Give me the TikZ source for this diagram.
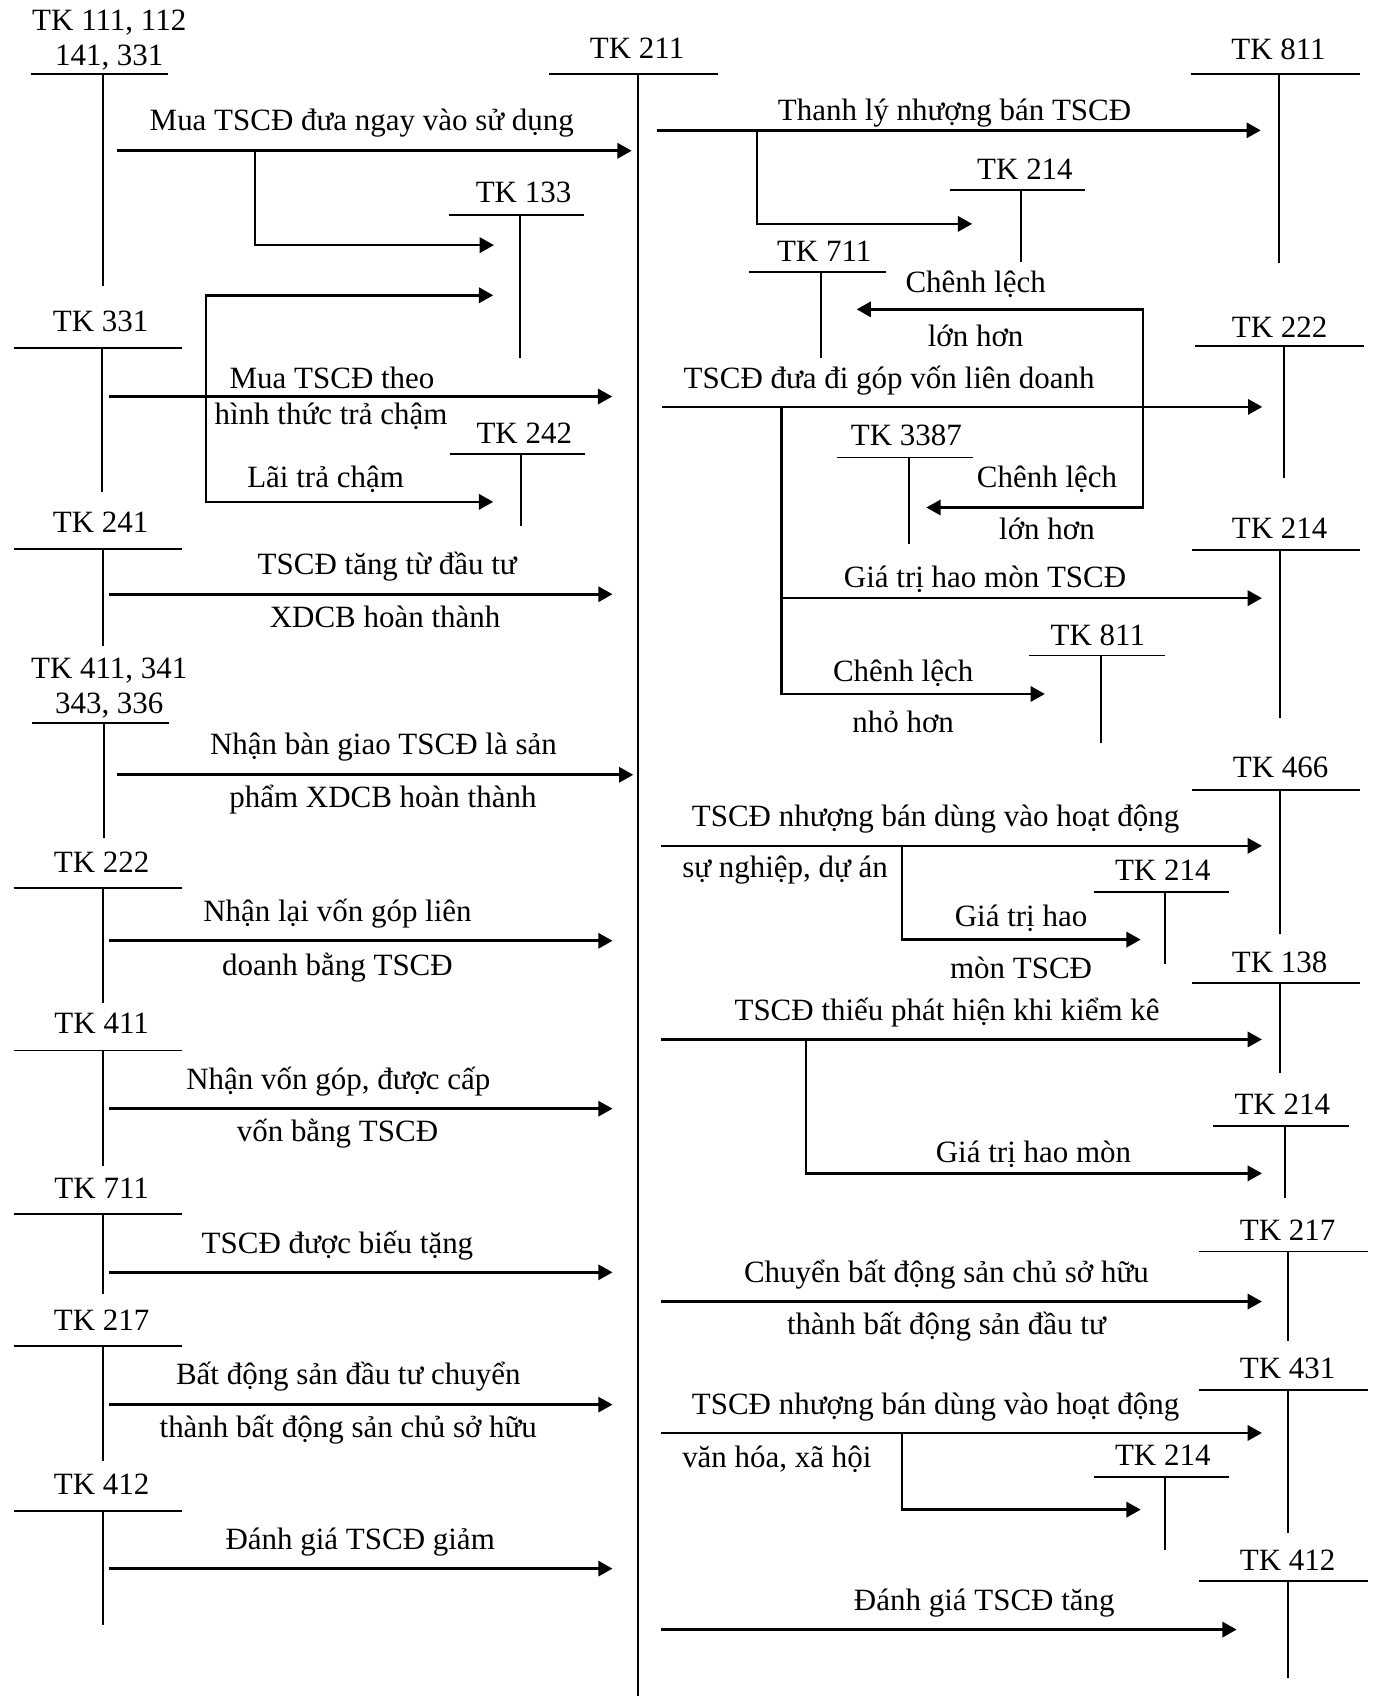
\documentclass[tikz,border=0pt]{standalone}
\usepackage{fontspec}
\setmainfont{Liberation Serif}
\usepackage{tikz}
\usetikzlibrary{arrows.meta}

\tikzset{
    acctlabel/.style={inner sep=0pt, anchor=south, text depth=0pt, align=center},
    acctline/.style={line width=1pt},
    flowarrow/.style={line width=1.4pt, -{Triangle[length=7.5pt, width=8pt]}},
    twoway/.style={line width=1.4pt, {Triangle[length=7.5pt, width=8pt]}-{Triangle[length=7.5pt, width=8pt]}},
    flowtext/.style={inner sep=0pt, anchor=south, text depth=0pt}
}

% T account: name, label, label x, label baseline, left x, right x, line y, stem bottom, stem x
\newcommand{\taccount}[9]{%
    \node[acctlabel] (#1) at (#3,#4) {#2};
    \coordinate (#1-l) at (#5,#7);
    \coordinate (#1-r) at (#6,#7);
    \coordinate (#1-t) at (#9,#7);
    \coordinate (#1-b) at (#9,#8);
    \draw[acctline] (#1-l) -- (#1-r);
    \draw[acctline] (#1-t) -- (#1-b);
}

% straight entry: name, start x, end x, y
\newcommand{\entry}[4]{%
    \coordinate (#1-s) at (#2,#4);
    \coordinate (#1-e) at (#3,#4);
    \draw[flowarrow] (#1-s) -- (#1-e);
}

\begin{document}
\begin{tikzpicture}[
        x=0.02cm,
        y=-0.02cm,
        font=\fontsize{16.3}{18.4}\selectfont
    ]

        \useasboundingbox (0,0) rectangle (1270,1568);

        % accounts on the left
        \taccount{tk111}{TK 111, 112\\141, 331}{101}{60.5}{28.7}{155}{68}{264}{95}
        \taccount{tk331}{TK 331}{93}{307}{12.6}{168.6}{321.5}{455}{94.6}
        \taccount{tk241}{TK 241}{93}{493}{12.6}{168.6}{507.4}{596.8}{95}
        \taccount{tk411a}{TK 411, 341\\343, 336}{101}{660.2}{29.5}{156}{668.4}{774.7}{95.8}
        \taccount{tk222a}{TK 222}{94}{806.8}{12.6}{168.6}{821}{927.6}{95}
        \taccount{tk411b}{TK 411}{94}{956.3}{12.6}{168.6}{971.2}{1077.7}{95}
        \taccount{tk711a}{TK 711}{94}{1108}{12.6}{168.6}{1122.4}{1196}{95}
        \taccount{tk217a}{TK 217}{94}{1230}{12.6}{168.6}{1244.7}{1351}{95}
        \taccount{tk412a}{TK 412}{94}{1381.8}{12.6}{168.6}{1396.6}{1502.6}{95}
        \taccount{tk133}{TK 133}{484}{188}{415}{540}{199}{331}{481}
        \taccount{tk242}{TK 242}{484.7}{410}{415.7}{541}{419.5}{486}{481.6}

        % TK 211 in the middle
        \taccount{tk211}{TK 211}{589}{54}{508}{664}{68}{1568}{589.5}

        % accounts on the right
        \taccount{tk811a}{TK 811}{1182}{55}{1101}{1257}{68}{243.5}{1182.6}
        \taccount{tk214a}{TK 214}{947.6}{166}{878}{1003.5}{175.3}{242}{944.3}
        \taccount{tk711b}{TK 711}{762}{242}{692.3}{818.7}{251.3}{331}{759}
        \taccount{tk222b}{TK 222}{1183}{312}{1105}{1260.7}{319.8}{442.3}{1187}
        \taccount{tk3387}{TK 3387}{838}{412.6}{774}{899.6}{423}{503}{840.4}
        \taccount{tk214b}{TK 214}{1183}{498.5}{1102}{1257}{508.4}{664}{1183.5}
        \taccount{tk811b}{TK 811}{1015}{597}{951.6}{1077}{606}{687}{1017.7}
        \taccount{tk466}{TK 466}{1184}{719.4}{1102}{1257.6}{730}{863.7}{1183.4}
        \taccount{tk214c}{TK 214}{1075}{814}{1011}{1136}{824.5}{891}{1077}
        \taccount{tk138}{TK 138}{1183}{899}{1102}{1257.6}{909}{992.4}{1183.4}
        \taccount{tk214d}{TK 214}{1185.5}{1030.6}{1121.6}{1247}{1040.6}{1107.3}{1187.7}
        \taccount{tk217b}{TK 217}{1190.4}{1147.3}{1108.7}{1264.5}{1157}{1240}{1190.9}
        \taccount{tk431}{TK 431}{1190.4}{1275}{1108.7}{1264.5}{1284.8}{1417.3}{1190.9}
        \taccount{tk214e}{TK 214}{1075}{1355.6}{1011}{1136}{1365.8}{1432.7}{1077}
        \taccount{tk412b}{TK 412}{1190.4}{1452.7}{1108.7}{1264.5}{1462}{1551}{1190.9}

        % increases of TK 211
        \entry{buy}{108}{584}{139.4}
        \node[flowtext] (buy-t) at (334.5,121) {Mua TSCĐ đưa ngay vào sử dụng};
        \coordinate (vat-s) at (235.6,139.4);
        \coordinate (vat-e) at (456.7,226.6);
        \draw[flowarrow] (vat-s) |- (vat-e);

        \entry{defer}{100.8}{566}{366.6}
        \node[flowtext] (defer-t1) at (307,359.6) {Mua TSCĐ theo};
        \node[flowtext] (defer-t2) at (306,393) {hình thức trả chậm};
        \coordinate (vat2-e) at (456,273);
        \coordinate (int-m) at (190.4,366.6);
        \coordinate (int-e) at (456,464);
        \draw[twoway] (vat2-e) -| (int-m) |- (int-e);
        \node[flowtext] (int-t) at (301,451) {Lãi trả chậm};

        \entry{build}{100.8}{566.3}{549.4}
        \node[flowtext] (build-t1) at (358,531.5) {TSCĐ tăng từ đầu tư};
        \node[flowtext] (build-t2) at (356,580.8) {XDCB hoàn thành};

        \entry{hand}{108.5}{585.5}{716.3}
        \node[flowtext] (hand-t1) at (354.5,697.9) {Nhận bàn giao TSCĐ là sản};
        \node[flowtext] (hand-t2) at (354,746.7) {phẩm XDCB hoàn thành};

        \entry{back}{100.8}{566.3}{869.8}
        \node[flowtext] (back-t1) at (312,852.2) {Nhận lại vốn góp liên};
        \node[flowtext] (back-t2) at (312,901.8) {doanh bằng TSCĐ};

        \entry{cap}{100.8}{566.3}{1025}
        \node[flowtext] (cap-t1) at (312.8,1007.5) {Nhận vốn góp, được cấp};
        \node[flowtext] (cap-t2) at (312,1055.4) {vốn bằng TSCĐ};

        \entry{gift}{100.8}{566.3}{1176.3}
        \node[flowtext] (gift-t) at (312,1159) {TSCĐ được biếu tặng};

        \entry{invl}{100.8}{566.3}{1298.6}
        \node[flowtext] (invl-t1) at (322,1280) {Bất động sản đầu tư chuyển};
        \node[flowtext] (invl-t2) at (322,1329.5) {thành bất động sản chủ sở hữu};

        \entry{down}{100.8}{566.3}{1450.2}
        \node[flowtext] (down-t) at (333,1432.6) {Đánh giá TSCĐ giảm};

        % decreases of TK 211
        \entry{sell}{607.5}{1165.6}{120.5}
        \node[flowtext] (sell-t) at (882.5,112.2) {Thanh lý nhượng bán TSCĐ};
        \coordinate (dep1-s) at (700,120.5);
        \coordinate (dep1-e) at (898.8,207);
        \draw[flowarrow] (dep1-s) |- (dep1-e);

        \entry{jv}{612}{1167}{376.2}
        \node[flowtext] (jv-t) at (822,359.8) {TSCĐ đưa đi góp vốn liên doanh};
        \coordinate (gain-e1) at (792,286);
        \coordinate (gain-m) at (1056.8,376.2);
        \coordinate (gain-e2) at (856.4,469.2);
        \draw[twoway] (gain-e1) -| (gain-m) |- (gain-e2);
        \node[flowtext] (gain-t1) at (902,271) {Chênh lệch};
        \node[flowtext] (gain-t2) at (902,320.6) {lớn hơn};
        \node[flowtext] (gain-t3) at (968,450.6) {Chênh lệch};
        \node[flowtext] (gain-t4) at (968,499) {lớn hơn};
        \coordinate (jv-b) at (722.3,376.2);
        \coordinate (dep2-e) at (1166.7,553);
        \coordinate (loss-e) at (966,641.6);
        \draw[flowarrow] (jv-b) |- (dep2-e);
        \draw[flowarrow] (jv-b) |- (loss-e);
        \node[flowtext] (dep2-t) at (910.7,543.4) {Giá trị hao mòn TSCĐ};
        \node[flowtext] (loss-t1) at (835,630) {Chênh lệch};
        \node[flowtext] (loss-t2) at (835,677.5) {nhỏ hơn};

        \entry{pub}{611}{1166.7}{782}
        \node[flowtext] (pub-t1) at (865,764.7) {TSCĐ nhượng bán dùng vào hoạt động};
        \node[flowtext, anchor=south west] (pub-t2) at (630.4,811.3) {sự nghiệp, dự án};
        \coordinate (dep3-s) at (834,782);
        \coordinate (dep3-e) at (1054.6,868.7);
        \draw[flowarrow] (dep3-s) |- (dep3-e);
        \node[flowtext] (dep3-t1) at (944,857.3) {Giá trị hao};
        \node[flowtext] (dep3-t2) at (944,905) {mòn TSCĐ};

        \entry{miss}{611}{1166.7}{961}
        \node[flowtext] (miss-t) at (875.6,944) {TSCĐ thiếu phát hiện khi kiểm kê};
        \coordinate (dep4-s) at (745.2,961);
        \coordinate (dep4-e) at (1166.7,1084.8);
        \draw[flowarrow] (dep4-s) |- (dep4-e);
        \node[flowtext] (dep4-t) at (955.5,1074.9) {Giá trị hao mòn};

        \entry{invr}{611}{1166.7}{1203.3}
        \node[flowtext] (invr-t1) at (875,1186.2) {Chuyển bất động sản chủ sở hữu};
        \node[flowtext] (invr-t2) at (875,1234) {thành bất động sản đầu tư};

        \entry{cult}{611}{1166.7}{1324.8}
        \node[flowtext] (cult-t1) at (865,1307.9) {TSCĐ nhượng bán dùng vào hoạt động};
        \node[flowtext, anchor=south west] (cult-t2) at (630.4,1357.2) {văn hóa, xã hội};
        \coordinate (dep5-s) at (834,1324.8);
        \coordinate (dep5-e) at (1054.6,1395.7);
        \draw[flowarrow] (dep5-s) |- (dep5-e);

        \entry{up}{611}{1143.3}{1506.6}
        \node[flowtext] (up-t) at (910,1489.7) {Đánh giá TSCĐ tăng};

    \end{tikzpicture}
\end{document}
